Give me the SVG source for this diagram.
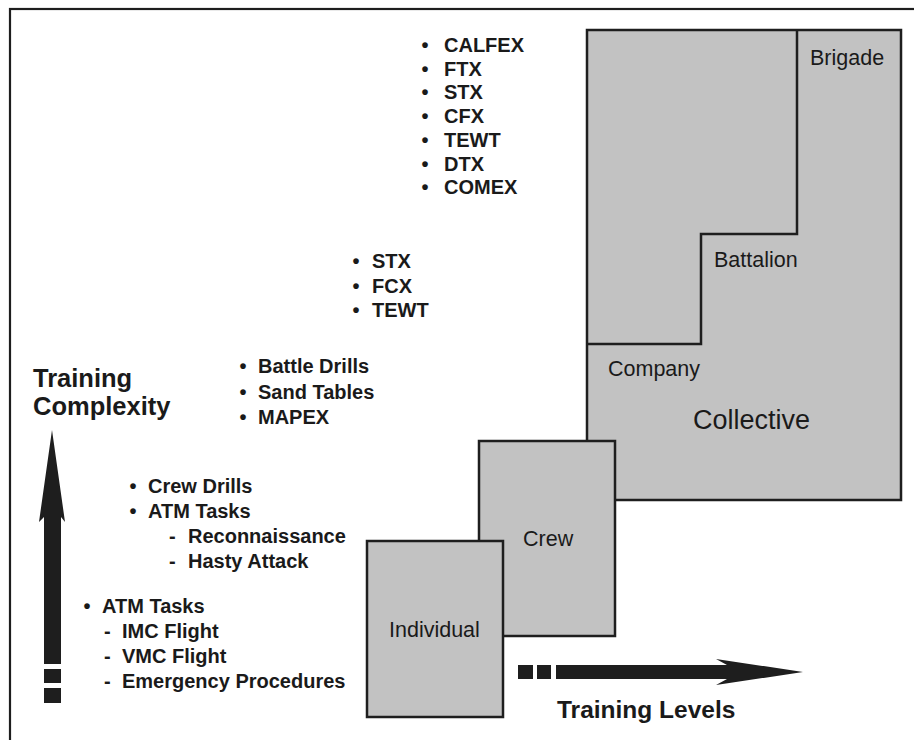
<svg xmlns="http://www.w3.org/2000/svg" width="914" height="740" viewBox="0 0 914 740">
  <style>
    .box { fill: #c2c2c2; stroke: #1e1e1e; stroke-width: 2.5; }
    .step { fill: none; stroke: #1e1e1e; stroke-width: 2.5; }
    .lbl { font-family: "Liberation Sans", Arial, sans-serif; font-size: 21.5px; fill: #1a1a1a; }
    .big { font-size: 27px; }
    .item { font-family: "Liberation Sans", Arial, sans-serif; font-size: 20px; font-weight: bold; fill: #1a1a1a; }
    .axis-title { font-family: "Liberation Sans", Arial, sans-serif; font-size: 25.5px; font-weight: bold; fill: #1a1a1a; }
    .arrow { fill: #1e1e1e; }
  </style>

  <rect width="914" height="740" fill="#ffffff"/>
  <!-- outer frame (runs off the right and bottom edges) -->
  <rect x="10" y="9" width="920" height="760" fill="none" stroke="#1e1e1e" stroke-width="2.2"/>

  <!-- collective levels: brigade / battalion / company -->
  <g id="collective">
    <rect class="box" x="587" y="30" width="314" height="470"/>
    <path class="step" d="M797,30 V234 H701 V344 H587"/>
    <text class="lbl" x="810" y="65">Brigade</text>
    <text class="lbl" x="714" y="267">Battalion</text>
    <text class="lbl" x="608" y="376">Company</text>
    <text class="lbl big" x="693" y="429">Collective</text>
  </g>

  <g id="crew">
    <rect class="box" x="479" y="441" width="136" height="195"/>
    <text class="lbl" x="523" y="546">Crew</text>
  </g>

  <g id="individual">
    <rect class="box" x="367" y="541" width="136" height="176"/>
    <text class="lbl" x="389" y="637">Individual</text>
  </g>

  <!-- training events per level -->
  <g id="events-brigade" class="item">
    <text><tspan x="421.5" y="52">•</tspan><tspan x="444" y="52">CALFEX</tspan></text>
    <text><tspan x="421.5" y="75.7">•</tspan><tspan x="444" y="75.7">FTX</tspan></text>
    <text><tspan x="421.5" y="99.4">•</tspan><tspan x="444" y="99.4">STX</tspan></text>
    <text><tspan x="421.5" y="123.1">•</tspan><tspan x="444" y="123.1">CFX</tspan></text>
    <text><tspan x="421.5" y="146.8">•</tspan><tspan x="444" y="146.8">TEWT</tspan></text>
    <text><tspan x="421.5" y="170.5">•</tspan><tspan x="444" y="170.5">DTX</tspan></text>
    <text><tspan x="421.5" y="194.2">•</tspan><tspan x="444" y="194.2">COMEX</tspan></text>
  </g>

  <g id="events-battalion" class="item">
    <text><tspan x="352.5" y="268">•</tspan><tspan x="372" y="268">STX</tspan></text>
    <text><tspan x="352.5" y="293">•</tspan><tspan x="372" y="293">FCX</tspan></text>
    <text><tspan x="352.5" y="317">•</tspan><tspan x="372" y="317">TEWT</tspan></text>
  </g>

  <g id="events-company" class="item">
    <text><tspan x="239.5" y="373">•</tspan><tspan x="258" y="373">Battle Drills</tspan></text>
    <text><tspan x="239.5" y="399">•</tspan><tspan x="258" y="399">Sand Tables</tspan></text>
    <text><tspan x="239.5" y="424">•</tspan><tspan x="258" y="424">MAPEX</tspan></text>
  </g>

  <g id="events-crew" class="item">
    <text><tspan x="129.5" y="493">•</tspan><tspan x="148" y="493">Crew Drills</tspan></text>
    <text><tspan x="129.5" y="518">•</tspan><tspan x="148" y="518">ATM Tasks</tspan></text>
    <text><tspan x="169" y="543">-</tspan><tspan x="188" y="543">Reconnaissance</tspan></text>
    <text><tspan x="169" y="568">-</tspan><tspan x="188" y="568">Hasty Attack</tspan></text>
  </g>

  <g id="events-individual" class="item">
    <text><tspan x="83.5" y="613">•</tspan><tspan x="102" y="613">ATM Tasks</tspan></text>
    <text><tspan x="104" y="638">-</tspan><tspan x="122" y="638">IMC Flight</tspan></text>
    <text><tspan x="104" y="663">-</tspan><tspan x="122" y="663">VMC Flight</tspan></text>
    <text><tspan x="104" y="688">-</tspan><tspan x="122" y="688">Emergency Procedures</tspan></text>
  </g>

  <!-- axes -->
  <g id="axes">
    <g id="axis-complexity">
      <polygon class="arrow" points="52,430 65,522 61,517 61,664 44,664 44,517 39,522"/>
      <rect class="arrow" x="44" y="669" width="17" height="14"/>
      <rect class="arrow" x="44" y="688" width="17" height="15"/>
      <text class="axis-title" x="33" y="387">Training</text>
      <text class="axis-title" x="33" y="415">Complexity</text>
    </g>
    <g id="axis-levels">
      <rect class="arrow" x="518" y="665" width="15" height="14"/>
      <rect class="arrow" x="537" y="665" width="14" height="14"/>
      <polygon class="arrow" points="556,665 727,665 716,659 803,672 716,685 727,679 556,679"/>
      <text class="axis-title" x="557" y="718" style="font-size:24.5px">Training Levels</text>
    </g>
  </g>
</svg>
